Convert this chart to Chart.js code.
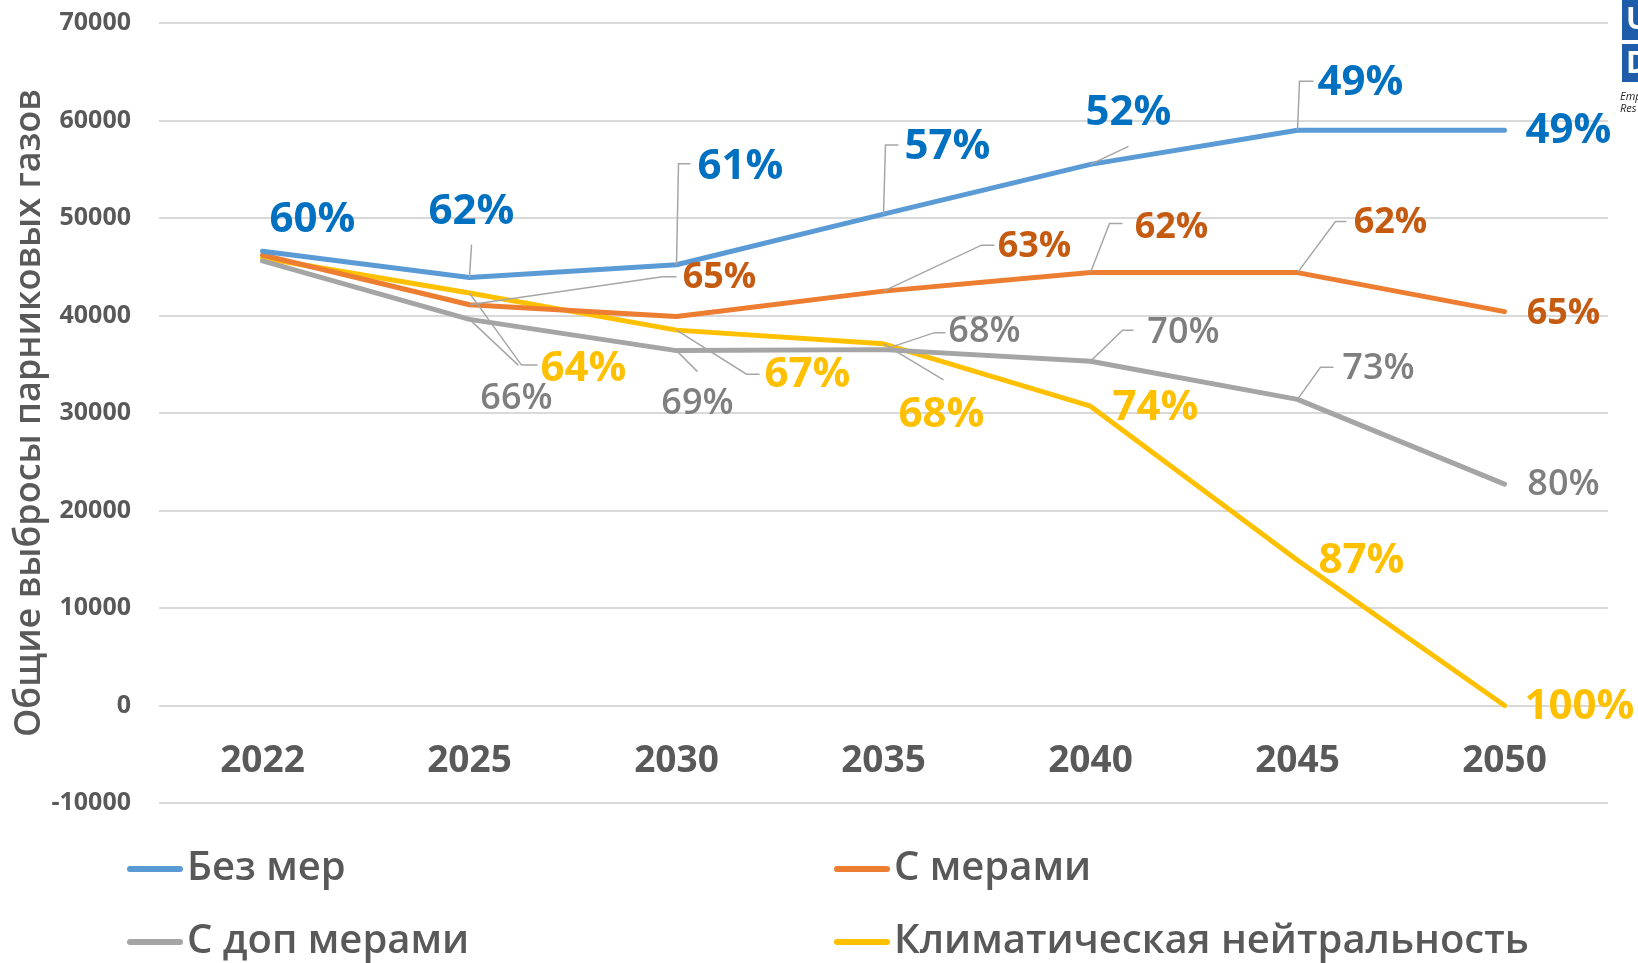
<!DOCTYPE html>
<html>
<head>
<meta charset="utf-8">
<script src="https://cdn.jsdelivr.net/npm/chart.js@4.4.1/dist/chart.umd.min.js"></script>
<style>
html, body { margin: 0; padding: 0; background: #fff; }
#wrap { position: relative; width: 1638px; height: 963px; }
</style>
</head>
<body>
<div id="wrap"><canvas id="grafico"></canvas></div>
<script>
// ---- datos ----
const years = ["2022", "2025", "2030", "2035", "2040", "2045", "2050"];
const bezMer   = [46600, 43900, 45200, 50400, 55500, 59000, 59000];
const sMerami  = [46200, 41100, 39900, 42500, 44400, 44400, 40400];
const sDop     = [45600, 39600, 36400, 36500, 35300, 31400, 22700];
const neutral  = [45900, 42300, 38500, 37100, 30700, 14900, 0];

const pctBezMer  = ["60%", "62%", "61%", "57%", "52%", "49%", "49%"];
const pctSMerami = [null, "65%", null, "63%", "62%", "62%", "65%"];
const pctDop     = [null, "66%", "69%", "68%", "70%", "73%", "80%"];
const pctNeutral = [null, "64%", "67%", "68%", "74%", "87%", "100%"];

const yTicks = { min: -10000, max: 70000, step: 10000 };

// posiciones de etiquetas (px relativos al punto) y lineas guia
const posBezMer = [
  { dx: 50, dy: -31 },
  { dx: 2, dy: -65, l: [[2, -33]] },
  { dx: 64, dy: -98, l: [[2, -101], [14, -101]] },
  { dx: 64, dy: -67, l: [[2, -69], [15, -69]] },
  { dx: 38, dy: -51, l: [[38, -18]] },
  { dx: 63, dy: -47, l: [[2, -49], [16, -49]] },
  { dx: 64, dy: 1 }
];
const posSMerami = [
  null,
  { dx: 250, dy: -27, l: [[193, -28], [207, -28]] },
  null,
  { dx: 151, dy: -44, l: [[98, -46], [111, -46]] },
  { dx: 81, dy: -45, l: [[19, -49], [32, -49]] },
  { dx: 93, dy: -50, l: [[38, -51], [49, -51]] },
  { dx: 59, dy: 2 }
];
const posDop = [
  null,
  { dx: 47, dy: 79, l: [[49, 46]] },
  { dx: 21, dy: 53, l: [[21, 21]] },
  { dx: 101, dy: -18, l: [[51, -17], [62, -17]] },
  { dx: 93, dy: -29, l: [[32, -31], [43, -31]] },
  { dx: 81, dy: -31, l: [[23, -32], [36, -32]] },
  { dx: 59, dy: 1 }
];
const posNeutral = [
  null,
  { dx: 114, dy: 76, l: [[52, 72], [68, 72]] },
  { dx: 131, dy: 45, l: [[70, 44], [83, 44]] },
  { dx: 58, dy: 71, l: [[60, 36]] },
  { dx: 65, dy: 2 },
  { dx: 64, dy: 1 },
  { dx: 75, dy: 2 }
];

const gris = "#595959";

// ---- plugin: etiquetas de porcentaje ----
const etiquetasPlugin = {
  id: "etiquetas",
  afterDatasetsDraw(chart) {
    const ctx = chart.ctx;
    chart.data.datasets.forEach((ds, i) => {
      const meta = chart.getDatasetMeta(i);
      ds.pct.forEach((txt, j) => {
        if (!txt) return;
        const p = meta.data[j];
        const pos = ds.pos[j];
        ctx.save();
        if (pos.l) {
          ctx.strokeStyle = "#a6a6a6";
          ctx.lineWidth = 1.5;
          ctx.beginPath();
          ctx.moveTo(p.x, p.y);
          pos.l.forEach(q => ctx.lineTo(p.x + q[0], p.y + q[1]));
          ctx.stroke();
        }
        ctx.font = ds.pctFont;
        ctx.fillStyle = ds.pctColor;
        ctx.textAlign = "center";
        ctx.textBaseline = "middle";
        ctx.fillText(txt, p.x + pos.dx, p.y + pos.dy);
        ctx.restore();
      });
    });
  }
};

// ---- plugin: leyenda en dos columnas ----
const leyendaPlugin = {
  id: "leyenda",
  afterDraw(chart) {
    const ctx = chart.ctx;
    const ca = chart.chartArea;
    const cols = [ca.left - 32, ca.left + 675];
    const rows = [ca.bottom + 66, ca.bottom + 139];
    chart.data.datasets.forEach((ds, i) => {
      const x = cols[i % 2];
      const y = rows[Math.floor(i / 2)];
      ctx.save();
      ctx.strokeStyle = ds.borderColor;
      ctx.lineWidth = 6;
      ctx.lineCap = "round";
      ctx.beginPath();
      ctx.moveTo(x + 3, y);
      ctx.lineTo(x + 53, y);
      ctx.stroke();
      ctx.font = "600 40px 'Open Sans'";
      ctx.fillStyle = gris;
      ctx.textAlign = "left";
      ctx.textBaseline = "middle";
      ctx.fillText(ds.label, x + 60, y);
      ctx.restore();
    });
    // logo recortado arriba a la derecha
    ctx.save();
    ctx.fillStyle = "#1f5ca9";
    ctx.fillRect(1622, 0, 16, 40);
    ctx.fillRect(1622, 44, 16, 38);
    ctx.fillStyle = "#fff";
    ctx.font = "bold 30px 'Open Sans'";
    ctx.textBaseline = "middle";
    ctx.fillText("U", 1626, 20);
    ctx.fillText("D", 1626, 64);
    ctx.fillStyle = "#222";
    ctx.font = "italic 11px 'Open Sans'";
    ctx.fillText("Emp", 1620, 97);
    ctx.fillText("Res", 1620, 109);
    ctx.restore();
  }
};

const ctx = document.getElementById("grafico");
new Chart(ctx, {
  type: "line",
  data: {
    labels: years,
    datasets: [
      { label: "Без мер", data: bezMer, borderColor: "#5b9bd5", pct: pctBezMer, pos: posBezMer,
        pctColor: "#0070c0", pctFont: "bold 42px 'Open Sans'" },
      { label: "С мерами", data: sMerami, borderColor: "#ed7d31", pct: pctSMerami, pos: posSMerami,
        pctColor: "#c55a11", pctFont: "bold 36px 'Open Sans'" },
      { label: "С доп мерами", data: sDop, borderColor: "#a5a5a5", pct: pctDop, pos: posDop,
        pctColor: "#7f7f7f", pctFont: "600 36px 'Open Sans'" },
      { label: "Климатическая нейтральность", data: neutral, borderColor: "#ffc000", pct: pctNeutral, pos: posNeutral,
        pctColor: "#ffc000", pctFont: "bold 42px 'Open Sans'" }
    ]
  },
  options: {
    responsive: true,
    maintainAspectRatio: false,
    devicePixelRatio: 1,
    animation: false,
    layout: { padding: { top: 23, right: 30, bottom: 160, left: 0 } },
    elements: {
      line: { borderWidth: 5, borderCapStyle: "round", borderJoinStyle: "round", tension: 0, fill: false },
      point: { radius: 0, hoverRadius: 0 }
    },
    plugins: {
      legend: { display: false },
      tooltip: { enabled: false }
    },
    scales: {
      x: {
        type: "category",
        offset: true,
        position: { y: 0 },
        grid: { display: false, drawTicks: false },
        border: { display: false },
        ticks: { color: gris, font: { family: "'Open Sans'", size: 37, weight: "bold" }, padding: 34 }
      },
      y: {
        min: yTicks.min,
        max: yTicks.max,
        grid: { color: "#d9d9d9", lineWidth: 2, drawTicks: true, tickLength: 24, tickColor: "rgba(0,0,0,0)" },
        border: { display: false },
        ticks: {
          stepSize: yTicks.step,
          color: gris,
          padding: 4,
          font: { family: "'Open Sans'", size: 25, weight: "bold" },
          callback: v => String(v)
        },
        title: {
          display: true,
          text: "Общие выбросы парниковых газов",
          color: gris,
          font: { family: "'Open Sans'", size: 36, weight: "600" },
          padding: { top: 8, bottom: 0 }
        },
        afterFit(scale) { scale.width = 159; }
      }
    }
  },
  plugins: [etiquetasPlugin, leyendaPlugin]
});
</script>
</body>
</html>
